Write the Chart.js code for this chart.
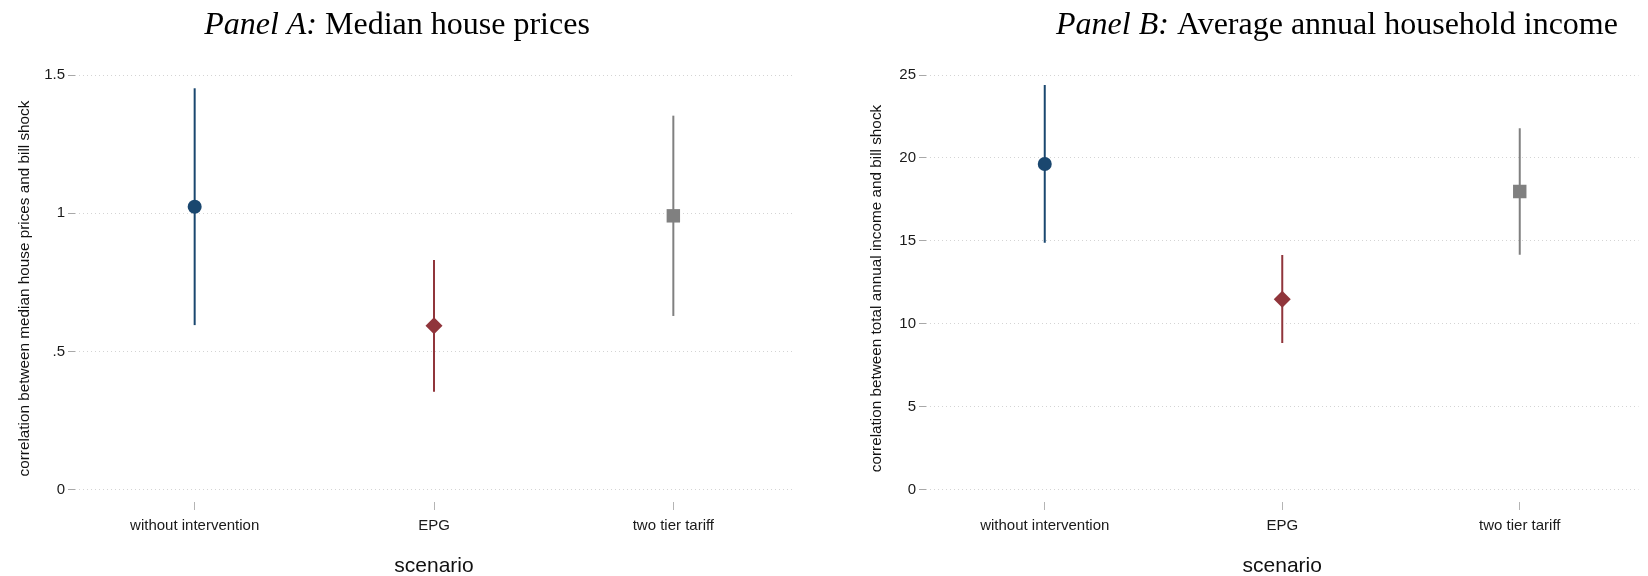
<!DOCTYPE html>
<html><head><meta charset="utf-8">
<script src="https://cdn.jsdelivr.net/npm/chart.js@4.4.1/dist/chart.umd.min.js"></script>
<style>
html,body{margin:0;padding:0;background:#fff;}
#wrap{position:relative;width:1648px;height:576px;overflow:hidden;background:#fff;}
canvas{position:absolute;top:0;}
</style></head><body>
<div id="wrap">
<canvas id="ca" width="810" height="576" style="left:0"></canvas>
<canvas id="cb" width="828" height="576" style="left:820px"></canvas>
</div>
<script>
// ---- data ----
const scenarios = ["without intervention", "EPG", "two tier tariff"];
const titleItalic = ["Panel A:", "Panel B:"];
const titleRest = [" Median house prices", " Average annual household income"];
const yTitles = ["correlation between median house prices and bill shock",
                 "correlation between total annual income and bill shock"];
const xTitle = "scenario";

const housePoint = [1.024, 0.594, 0.991];
const houseLow   = [0.596, 0.355, 0.629];
const houseHigh  = [1.452, 0.831, 1.353];
const houseTicks = [0, 0.5, 1, 1.5];
const houseTickLabels = ["0", ".5", "1", "1.5"];

const incomePoint = [19.64, 11.49, 17.98];
const incomeLow   = [14.9, 8.86, 14.17];
const incomeHigh  = [24.4, 14.15, 21.79];
const incomeTicks = [0, 5, 10, 15, 20, 25];
const incomeTickLabels = ["0", "5", "10", "15", "20", "25"];

// ---- styles ----
const colors = ["#1a476f", "#90353b", "#808080"];
const markerStyles = ["circle", "rectRot", "rect"];
const markerRadii = [7, 8.5, 9.5];
const SANS = '"Liberation Sans", Arial, sans-serif';
const SERIF = '"Liberation Serif", "Times New Roman", serif';
const TITLE_SIZE = 32;

function titlePlugin(italic, rest, cx) {
  return {
    id: 'panelTitle',
    afterDraw(chart) {
      const ctx = chart.ctx;
      ctx.save();
      ctx.fillStyle = '#000';
      ctx.textBaseline = 'alphabetic';
      ctx.font = 'italic ' + TITLE_SIZE + 'px ' + SERIF;
      const w1 = ctx.measureText(italic).width;
      ctx.font = TITLE_SIZE + 'px ' + SERIF;
      const w2 = ctx.measureText(rest).width;
      const x0 = cx - (w1 + w2) / 2;
      ctx.textAlign = 'left';
      ctx.font = 'italic ' + TITLE_SIZE + 'px ' + SERIF;
      ctx.fillText(italic, x0, 34);
      ctx.font = TITLE_SIZE + 'px ' + SERIF;
      ctx.fillText(rest, x0 + w1, 34);
      ctx.restore();
    }
  };
}

function makePanel(canvasId, idx, pts, lows, highs, ticks, tickLabels, yMin, yMax, axisW, padRight, yTitlePad, titleCx) {
  const datasets = [];
  scenarios.forEach((s, i) => {
    datasets.push({
      type: 'scatter',
      label: s,
      data: [{x: i + 1, y: pts[i]}],
      pointStyle: markerStyles[i],
      pointRadius: markerRadii[i],
      pointHoverRadius: markerRadii[i],
      backgroundColor: colors[i],
      borderColor: colors[i],
      borderWidth: 0,
      order: 0
    });
  });
  scenarios.forEach((s, i) => {
    datasets.push({
      type: 'line',
      label: s + ' CI',
      data: [{x: i + 1, y: lows[i]}, {x: i + 1, y: highs[i]}],
      borderColor: colors[i],
      borderWidth: 2,
      pointRadius: 0,
      fill: false,
      order: 1
    });
  });
  return new Chart(document.getElementById(canvasId), {
    type: 'scatter',
    data: {datasets},
    options: {
      responsive: false,
      animation: false,
      layout: {padding: {left: 0, right: padRight, top: 75, bottom: 0}},
      plugins: {legend: {display: false}, tooltip: {enabled: false}, title: {display: false}},
      scales: {
        x: {
          type: 'linear', min: 0.5, max: 3.5,
          afterBuildTicks: sc => { sc.ticks = scenarios.map((_, i) => ({value: i + 1})); },
          afterFit: sc => { sc.height = 74; },
          ticks: {
            callback: v => scenarios[v - 1],
            font: {family: SANS, size: 15}, color: '#1a1a1a', padding: 7, maxRotation: 0, autoSkip: false
          },
          grid: {drawOnChartArea: false, drawTicks: true, tickLength: 8, tickColor: '#b4b4b4', tickWidth: 1},
          border: {display: false},
          title: {display: true, text: xTitle, font: {family: SANS, size: 21}, color: '#111', padding: {top: 0, bottom: -3}}
        },
        y: {
          type: 'linear', min: yMin, max: yMax,
          afterBuildTicks: sc => { sc.ticks = ticks.map(v => ({value: v})); },
          afterFit: sc => { sc.width = axisW; },
          ticks: {
            callback: v => tickLabels[ticks.indexOf(v)],
            font: {family: SANS, size: 15}, color: '#1a1a1a', padding: 3
          },
          grid: {color: '#d4d4d4', lineWidth: 1, drawTicks: true, tickLength: 7, tickColor: '#a8a8a8', tickWidth: 1, tickBorderDash: []},
          border: {display: false, dash: [1, 3]},
          title: {display: true, text: yTitles[idx], font: {family: SANS, size: 15.3}, color: '#111', padding: {top: yTitlePad, bottom: 0}}
        }
      }
    },
    plugins: [titlePlugin(titleItalic[idx], titleRest[idx], titleCx)]
  });
}

makePanel('ca', 0, housePoint, houseLow, houseHigh, houseTicks, houseTickLabels, -0.0434, 1.5, 75, 17, 16, 397);
makePanel('cb', 1, incomePoint, incomeLow, incomeHigh, incomeTicks, incomeTickLabels, -0.723, 25, 106, 0, 47.5, 1337 - 820);
</script>
</body></html>
